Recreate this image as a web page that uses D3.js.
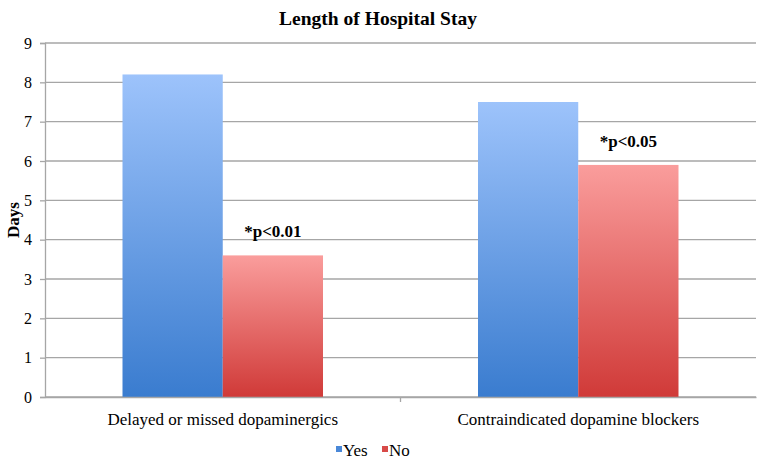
<!DOCTYPE html>
<html>
<head>
<meta charset="utf-8">
<script src="https://cdn.jsdelivr.net/npm/d3@7"></script>
<style>
  body { margin: 0; background: #fff; }
</style>
</head>
<body>
<div id="chart"></div>
<script>
// chart data
var categories = ["Delayed or missed dopaminergics", "Contraindicated dopamine blockers"]
var seriesNames = ["Yes", "No"]
var yesValues = [8.2, 7.5]
var noValues = [3.6, 5.9]
var pLabels = ["*p<0.01", "*p<0.05"]
var yTicks = [0, 1, 2, 3, 4, 5, 6, 7, 8, 9]

var FONT = "'Liberation Serif', 'Times New Roman', serif"
var W = 760, H = 466
var margin = {top: 43, right: 4, bottom: 69, left: 45}
var width = W - margin.left - margin.right
var height = H - margin.top - margin.bottom

var svg = d3.select("#chart").append("svg")
  .attr("width", W).attr("height", H)

// gradients for the bars
var defs = svg.append("defs")
var grads = [
  {id: "gYes", top: "#9dc3fb", bottom: "#3a7ccf"},
  {id: "gNo", top: "#fa9d9c", bottom: "#d03a38"}
]
grads.forEach(function(g){
  var lg = defs.append("linearGradient").attr("id", g.id)
    .attr("x1", 0).attr("y1", 0).attr("x2", 0).attr("y2", 1)
  lg.append("stop").attr("offset", "0%").attr("stop-color", g.top)
  lg.append("stop").attr("offset", "100%").attr("stop-color", g.bottom)
})

var g = svg.append("g").attr("transform", `translate(${margin.left},${margin.top})`)

var x0 = d3.scaleBand().domain(categories).range([0, width])
var x1 = d3.scaleBand().domain(seriesNames)
  .range([x0.bandwidth() * 0.218, x0.bandwidth() * 0.782])
var y = d3.scaleLinear().domain([0, 9]).range([height, 0])

// gridlines
g.append("g").selectAll("line").data(yTicks).enter().append("line")
  .attr("x1", 0).attr("x2", width)
  .attr("y1", d => y(d)).attr("y2", d => y(d))
  .attr("stroke", "#a6a6a6").attr("stroke-width", 1.3)

// y axis
var yAxis = g.append("g").call(d3.axisLeft(y).tickValues(yTicks).tickSize(5).tickPadding(8))
yAxis.select(".domain").attr("stroke", "#a6a6a6").attr("stroke-width", 1.3)
yAxis.selectAll(".tick line").attr("stroke", "#a6a6a6").attr("stroke-width", 1.3)
yAxis.selectAll("text").style("font-family", FONT).style("font-size", "16px").attr("fill", "#000")

// bars
var data = categories.map(function(c, i){
  return {cat: c, vals: [
    {s: "Yes", v: yesValues[i], fill: "url(#gYes)"},
    {s: "No", v: noValues[i], fill: "url(#gNo)"}
  ], p: pLabels[i]}
})

var groups = g.selectAll(".grp").data(data).enter().append("g")
  .attr("transform", d => `translate(${x0(d.cat)},0)`)

groups.selectAll("rect").data(d => d.vals).enter().append("rect")
  .attr("x", d => x1(d.s))
  .attr("y", d => y(d.v))
  .attr("width", x1.bandwidth())
  .attr("height", d => height - y(d.v))
  .attr("fill", d => d.fill)

// significance labels above the No bars
groups.append("text")
  .attr("x", x1("No") + x1.bandwidth() / 2)
  .attr("y", d => y(d.vals[1].v) - 18)
  .attr("text-anchor", "middle")
  .style("font-family", FONT).style("font-size", "17px").style("font-weight", "bold")
  .text(d => d.p)

// x axis
var xAxis = g.append("g").attr("transform", `translate(0,${height})`)
  .call(d3.axisBottom(x0).tickSize(0).tickPadding(16))
xAxis.select(".domain").attr("stroke", "#a6a6a6").attr("stroke-width", 1.3)
xAxis.selectAll("text").style("font-family", FONT).style("font-size", "17px").attr("fill", "#000")
// separator tick between categories
g.append("line").attr("x1", x0.bandwidth()).attr("x2", x0.bandwidth())
  .attr("y1", height).attr("y2", height + 5)
  .attr("stroke", "#a6a6a6").attr("stroke-width", 1.3)

// title
svg.append("text").attr("x", 378).attr("y", 25).attr("text-anchor", "middle")
  .attr("textLength", 198).attr("lengthAdjust", "spacingAndGlyphs")
  .style("font-family", FONT).style("font-size", "19px").style("font-weight", "bold")
  .text("Length of Hospital Stay")

// y axis label
svg.append("text")
  .attr("transform", `translate(19,${margin.top + height / 2}) rotate(-90)`)
  .attr("text-anchor", "middle")
  .style("font-family", FONT).style("font-size", "17px").style("font-weight", "bold")
  .text("Days")

// legend
var legend = svg.append("g").attr("transform", "translate(336,456)")
var legX = [0, 46]
seriesNames.forEach(function(s, i){
  legend.append("rect").attr("x", legX[i]).attr("y", -10).attr("width", 6).attr("height", 6)
    .attr("fill", i == 0 ? "#4a88d8" : "#d84a48")
  legend.append("text").attr("x", legX[i] + 7).attr("y", 0)
    .style("font-family", FONT).style("font-size", "17px").text(s)
})
</script>
</body>
</html>
